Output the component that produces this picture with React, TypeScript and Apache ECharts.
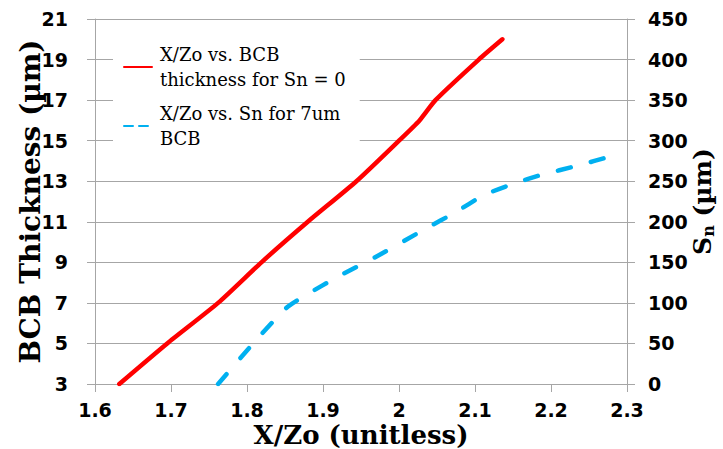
import React, { useEffect, useRef } from "react";
import * as echarts from "echarts";

// X/Zo vs. BCB thickness (Sn = 0)
const thickX = [1.632, 1.695, 1.762, 1.819, 1.88, 1.944, 2.0, 2.027, 2.048, 2.105, 2.136];
const thickY = [3, 5, 7, 9, 11, 13, 15, 16, 17, 19, 20];

// X/Zo vs. Sn (7 um BCB)
const snX = [1.762, 1.81, 1.852, 1.88, 1.919, 1.974, 2.036, 2.073, 2.112, 2.154, 2.188, 2.234, 2.28];
const snY = [0, 52, 94, 111, 132, 159, 192, 211, 233, 248, 258, 269, 281];

const leftTicks = [3, 5, 7, 9, 11, 13, 15, 17, 19, 21];
const seriesNames = ["X/Zo vs. BCB\nthickness for Sn = 0", "X/Zo vs. Sn for 7um\nBCB"];

const AXIS_GRAY = "#a6a6a6";
const TICK_FONT = { fontFamily: "DejaVu Sans", fontWeight: "bold" as const, fontSize: 19, color: "#000" };
const TITLE_FONT = { fontFamily: "DejaVu Serif", fontWeight: "bold" as const, color: "#000" };

export default function App() {
  const ref = useRef<HTMLDivElement>(null);

  useEffect(() => {
    if (!ref.current) return;
    const chart = echarts.init(ref.current, null, { renderer: "svg" });

    chart.setOption({
      animation: false,
      backgroundColor: "#fff",
      grid: { left: 95, right: 96, top: 19, bottom: 65, containLabel: false, outerBoundsMode: "none" },
      legend: {
        orient: "vertical",
        left: 113,
        top: 32,
        padding: [10, 14, 8, 10],
        backgroundColor: "#fff",
        itemWidth: 28,
        itemHeight: 14,
        itemGap: 9,
        itemStyle: { opacity: 0 },
        textStyle: { fontFamily: "DejaVu Serif", fontSize: 18, lineHeight: 25, color: "#000", padding: [0, 0, 0, 3] },
        data: [
          { name: seriesNames[0], itemStyle: { opacity: 0 } },
          { name: seriesNames[1], itemStyle: { opacity: 0 }, lineStyle: { type: [9, 6] } },
        ],
      },
      xAxis: {
        type: "value",
        min: 1.6,
        max: 2.3,
        interval: 0.1,
        name: "X/Zo (unitless)",
        nameLocation: "middle",
        nameGap: 39,
        nameMoveOverlap: false,
        nameTextStyle: { ...TITLE_FONT, fontSize: 26, lineHeight: 24 },
        axisLine: { show: true, lineStyle: { color: AXIS_GRAY, width: 1 } },
        axisTick: { show: true, inside: false, length: 8, lineStyle: { color: AXIS_GRAY } },
        axisLabel: {
          ...TICK_FONT,
          lineHeight: 19,
          margin: 16,
          formatter: (v: number) => String(Math.round(v * 10) / 10),
        },
        splitLine: { show: false },
      },
      yAxis: [
        {
          type: "value",
          position: "left",
          min: 3,
          max: 21,
          name: "BCB Thickness (µm)",
          nameLocation: "middle",
          nameRotate: 90,
          nameGap: 51,
          nameMoveOverlap: false,
          nameTextStyle: { ...TITLE_FONT, fontSize: 28 },
          axisLine: { show: true, lineStyle: { color: AXIS_GRAY, width: 1 } },
          axisTick: { show: true, inside: false, length: 8, customValues: leftTicks, lineStyle: { color: AXIS_GRAY } },
          axisLabel: { ...TICK_FONT, margin: 27, customValues: leftTicks },
          splitLine: { show: false },
        },
        {
          type: "value",
          position: "right",
          min: 0,
          max: 450,
          interval: 50,
          name: "{s|S}{sub|n}{s| (µm)}",
          nameLocation: "middle",
          nameRotate: 90,
          nameGap: 61,
          nameMoveOverlap: false,
          nameTextStyle: {
            ...TITLE_FONT,
            fontSize: 25,
            rich: {
              s: { ...TITLE_FONT, fontSize: 25, lineHeight: 28 },
              sub: { ...TITLE_FONT, fontSize: 16, lineHeight: 16, verticalAlign: "bottom" },
            },
          },
          axisLine: { show: true, lineStyle: { color: AXIS_GRAY, width: 1 } },
          axisTick: { show: true, inside: false, length: 8, lineStyle: { color: AXIS_GRAY } },
          axisLabel: { ...TICK_FONT, margin: 21 },
          splitLine: { show: true, lineStyle: { color: AXIS_GRAY, width: 1 } },
        },
      ],
      series: [
        {
          name: seriesNames[0],
          type: "line",
          yAxisIndex: 0,
          data: thickX.map((x, i) => [x, thickY[i]]),
          symbol: "none",
          smooth: 0.2,
          lineStyle: { color: "#ff0000", width: 4.5, cap: "round", join: "round" },
          itemStyle: { color: "#ff0000" },
          z: 3,
        },
        {
          name: seriesNames[1],
          type: "line",
          yAxisIndex: 1,
          data: snX.map((x, i) => [x, snY[i]]),
          symbol: "none",
          smooth: 0.2,
          lineStyle: { color: "#00b0f0", width: 4.5, type: [13, 21], cap: "round", join: "round" },
          itemStyle: { color: "#00b0f0" },
          z: 3,
        },
      ],
    });

    return () => chart.dispose();
  }, []);

  return <div ref={ref} style={{ width: 723, height: 449, position: "absolute", left: 0, top: 0 }} />;
}
